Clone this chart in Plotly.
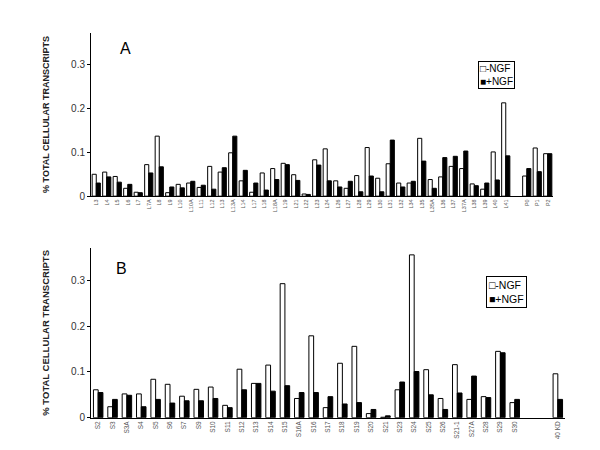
import plotly.graph_objects as go

# ---------------- Panel A data ----------------
a_labels = ["L3", "L4", "L5", "L6", "L7", "L7A", "L8", "L9", "L10", "L10A", "L11",
            "L12", "L13", "L13A", "L14", "L17", "L18", "L18A", "L19", "L21", "L22",
            "L23", "L24", "L26", "L27", "L28", "L29", "L30", "L31", "L32", "L34",
            "L35", "L35A", "L36", "L37", "L37A", "L38", "L39", "L40", "L41", " ",
            "P0", "P1", "P2"]
a_minus = [0.050, 0.055, 0.045, 0.018, 0.009, 0.072, 0.137, 0.008, 0.027, 0.030, 0.020,
           0.068, 0.055, 0.099, 0.035, 0.009, 0.053, 0.063, 0.075, 0.049, 0.005,
           0.083, 0.108, 0.035, 0.018, 0.047, 0.111, 0.041, 0.074, 0.030, 0.030,
           0.132, 0.038, 0.044, 0.068, 0.063, 0.028, 0.016, 0.101, 0.213, None,
           0.046, 0.110, 0.097]
a_plus = [0.030, 0.044, 0.032, 0.027, 0.008, 0.053, 0.067, 0.021, 0.019, 0.034, 0.025,
          0.016, 0.065, 0.137, 0.059, 0.030, 0.014, 0.038, 0.072, 0.036, 0.004,
          0.071, 0.035, 0.021, 0.034, 0.010, 0.046, 0.010, 0.128, 0.021, 0.034,
          0.080, 0.018, 0.088, 0.091, 0.103, 0.024, 0.030, 0.037, 0.092, None,
          0.063, 0.056, 0.097]

# ---------------- Panel B data ----------------
b_labels = ["S2", "S3", "S3A", "S4", "S5", "S6", "S7", "S9", "S10", "S11", "S12",
            "S13", "S14", "S15", "S16A", "S16", "S17", "S18", "S19", "S20", "S21",
            "S23", "S24", "S25", "S26", "S21-1", "S27A", "S28", "S29", "S30",
            " ", "  ", "40 KD"]
b_minus = [0.061, 0.024, 0.052, 0.052, 0.084, 0.073, 0.047, 0.062, 0.067, 0.027, 0.106,
           0.075, 0.115, 0.293, 0.042, 0.179, 0.022, 0.119, 0.156, 0.009, 0.001,
           0.061, 0.356, 0.105, 0.042, 0.116, 0.040, 0.046, 0.145, 0.033,
           None, None, 0.096]
b_plus = [0.055, 0.040, 0.049, 0.024, 0.040, 0.032, 0.037, 0.037, 0.042, 0.022, 0.061,
          0.075, 0.058, 0.070, 0.055, 0.055, 0.046, 0.030, 0.033, 0.018, 0.004,
          0.078, 0.101, 0.050, 0.018, 0.054, 0.091, 0.044, 0.142, 0.040,
          None, None, 0.040]

y_ticks = [0, 0.1, 0.2, 0.3]
y_ticktext = ["0", "0.1", "0.2", "0.3"]
y_title = "% TOTAL CELLULAR TRANSCRIPTS"

fig = go.Figure()

def add_pair(labels, minus, plus, xa, ya, w):
    fig.add_trace(go.Bar(x=labels, y=minus, name="-NGF", xaxis=xa, yaxis=ya,
                         width=w, offset=-w,
                         marker=dict(color="white", line=dict(color="black", width=1)),
                         showlegend=False))
    fig.add_trace(go.Bar(x=labels, y=plus, name="+NGF", xaxis=xa, yaxis=ya,
                         width=w, offset=0,
                         marker=dict(color="black", line=dict(color="black", width=1)),
                         showlegend=False))

add_pair(a_labels, a_minus, a_plus, "x", "y", 0.39)
add_pair(b_labels, b_minus, b_plus, "x2", "y2", 0.33)

axis_common = dict(showline=True, linecolor="black", linewidth=1, showgrid=False,
                   zeroline=False, mirror=False)

fig.update_layout(
    width=600, height=450,
    margin=dict(l=0, r=0, t=0, b=0),
    paper_bgcolor="white", plot_bgcolor="white",
    barmode="overlay",
    font=dict(family="Arial, Liberation Sans, sans-serif", color="black"),
    xaxis=dict(domain=[83/600, 545/600], anchor="y", type="category",
               categoryorder="array", categoryarray=a_labels,
               range=[-0.5, 43.5], tickangle=-90, ticks="",
               tickfont=dict(size=5.5, color="#555"), **axis_common),
    yaxis=dict(domain=[1-190.3/450, 1-25/450], anchor="x", range=[0, 0.373],
               tickvals=y_ticks, ticktext=y_ticktext, ticks="outside", ticklen=3,
               tickcolor="black", tickfont=dict(size=10, color="#333"),
               title=dict(text=y_title, standoff=19,
                          font=dict(size=9, weight="bold", color="#222")),
               **axis_common),
    xaxis2=dict(domain=[83/600, 557/600], anchor="y2", type="category",
                categoryorder="array", categoryarray=b_labels,
                range=[-0.5, 32.5], tickangle=-90, ticks="",
                tickfont=dict(size=6.5, color="#555"), **axis_common),
    yaxis2=dict(domain=[1-414.3/450, 1-242.7/450], anchor="x2", range=[0, 0.371],
                tickvals=y_ticks, ticktext=y_ticktext, ticks="outside", ticklen=3,
                tickcolor="black", tickfont=dict(size=10, color="#333"),
                title=dict(text=y_title, standoff=19,
                           font=dict(size=9.5, weight="bold", color="#222")),
                **axis_common),
    annotations=[
        dict(text="A", xref="paper", yref="paper", x=117/600, y=1-41/450,
             showarrow=False, font=dict(size=16), xanchor="center", yanchor="middle"),
        dict(text="B", xref="paper", yref="paper", x=113/600, y=1-263/450,
             showarrow=False, font=dict(size=16), xanchor="center", yanchor="middle"),
        dict(text="□-NGF<br>■+NGF", xref="paper", yref="paper", x=488/600, y=1-68/450,
             showarrow=False, align="left", font=dict(size=10),
             bordercolor="black", borderwidth=1, borderpad=1, bgcolor="white",
             xanchor="center", yanchor="middle"),
        dict(text="□-NGF<br>■+NGF", xref="paper", yref="paper", x=498/600, y=1-287/450,
             showarrow=False, align="left", font=dict(size=10.5),
             bordercolor="black", borderwidth=1, borderpad=2, bgcolor="white",
             xanchor="center", yanchor="middle"),
    ],
)

fig.write_html("out.html")
